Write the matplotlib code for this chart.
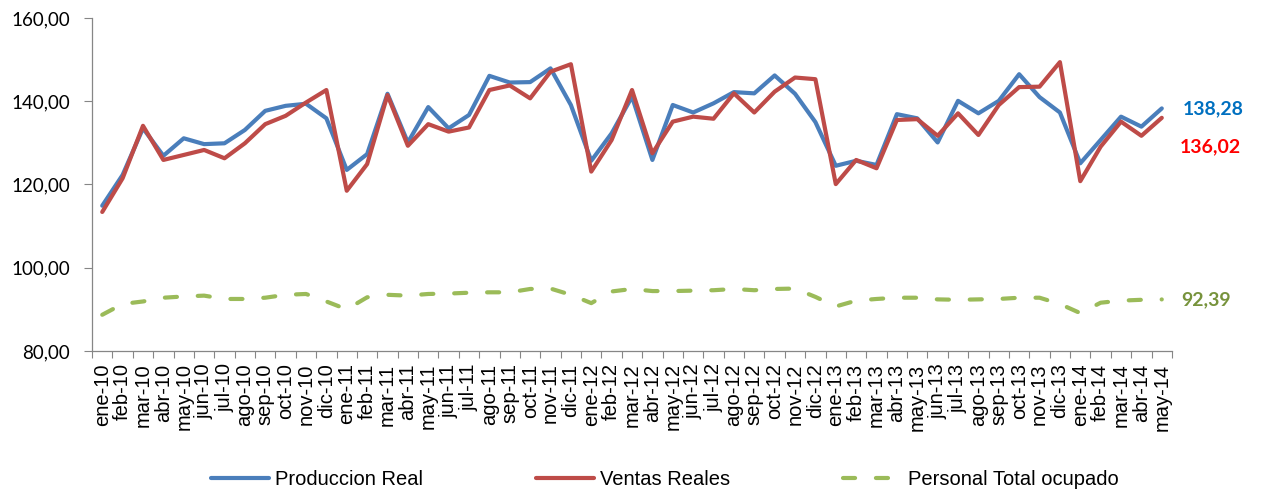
import matplotlib
matplotlib.use("Agg")
import matplotlib.pyplot as plt
from matplotlib.lines import Line2D

# Spanish month abbreviations and years shown on the x axis
meses = ["ene", "feb", "mar", "abr", "may", "jun", "jul", "ago", "sep", "oct", "nov", "dic"]
anios = ["10", "11", "12", "13", "14"]
etiquetas = [m + "-" + a for a in anios for m in meses][:53]

produccion = [114.9, 122.3, 133.5, 126.9, 131.1, 129.7, 129.9, 133.1, 137.7, 138.9, 139.4, 135.9,
              123.5, 127.3, 141.8, 130.1, 138.6, 133.5, 136.7, 146.1, 144.5, 144.6, 147.9, 139.1,
              125.7, 132.3, 141.1, 125.9, 139.1, 137.3, 139.5, 142.2, 141.9, 146.2, 141.8, 135.0,
              124.5, 125.7, 124.7, 136.9, 135.9, 130.1, 140.1, 137.1, 140.1, 146.5, 141.0, 137.3,
              125.1, 130.7, 136.3, 133.9, 138.28]
ventas = [113.4, 121.5, 134.1, 125.9, 127.1, 128.3, 126.3, 129.9, 134.5, 136.5, 139.7, 142.7,
          118.5, 124.9, 141.5, 129.3, 134.5, 132.7, 133.7, 142.7, 143.8, 140.7, 147.1, 148.9,
          123.1, 130.7, 142.7, 127.5, 135.1, 136.3, 135.8, 141.9, 137.3, 142.3, 145.7, 145.3,
          120.1, 125.9, 123.9, 135.5, 135.7, 131.7, 137.1, 131.9, 139.1, 143.4, 143.5, 149.4,
          120.8, 129.1, 135.1, 131.7, 136.02]
personal = [88.7, 91.3, 91.9, 92.8, 93.1, 93.3, 92.5, 92.5, 92.8, 93.5, 93.7, 91.9,
            90.0, 92.9, 93.5, 93.3, 93.7, 93.8, 94.0, 94.1, 94.1, 94.9, 95.0, 93.5,
            91.5, 94.3, 94.9, 94.4, 94.4, 94.5, 94.6, 94.9, 94.6, 94.9, 95.0, 93.0,
            90.7, 92.1, 92.5, 92.8, 92.8, 92.4, 92.3, 92.4, 92.5, 92.8, 92.8, 91.3,
            89.1, 91.6, 92.1, 92.3, 92.39]

y_ticks = [80, 100, 120, 140, 160]
y_labels = ["80,00", "100,00", "120,00", "140,00", "160,00"]

c_blue = "#4A7EBB"
c_red = "#BE4B48"
c_green = "#9BBB59"

fig = plt.figure(figsize=(12.61, 4.92), dpi=100)
ax = fig.add_axes([0.073, 0.2866, 0.8564, 0.6768])

x = list(range(len(etiquetas)))
ax.plot(x, produccion, color=c_blue, lw=3, solid_joinstyle="round", solid_capstyle="round",
        label="Produccion Real")
ax.plot(x, ventas, color=c_red, lw=3, solid_joinstyle="round", solid_capstyle="round",
        label="Ventas Reales")
ax.plot(x, personal, color=c_green, lw=3, dashes=(2.9, 5.0), dash_capstyle="round",
        label="Personal Total ocupado")

ax.set_xlim(-0.5, len(x) - 0.5)
ax.set_ylim(80, 160)

# category labels at centres, tick marks on the boundaries (Excel style)
ax.set_xticks(x)
ax.set_xticklabels(etiquetas, rotation=90, family="Liberation Sans", fontsize=14.5)
ax.tick_params(axis="x", which="major", length=0, pad=9)
ax.set_xticks([i - 0.5 for i in range(len(x) + 1)], minor=True)
ax.tick_params(axis="x", which="minor", length=5, width=0.8, color="#868686", direction="out")

ax.set_yticks(y_ticks)
ax.set_yticklabels(y_labels, family="Lato", fontsize=13.5)
ax.tick_params(axis="y", length=6, width=0.8, color="#868686", pad=10)

for s in ["top", "right"]:
    ax.spines[s].set_visible(False)
for s in ["left", "bottom"]:
    ax.spines[s].set_color("#868686")
    ax.spines[s].set_linewidth(0.9)

# end-of-series value labels
last = len(x) - 1
ax.annotate("138,28", (last, produccion[-1]), xytext=(15, 0), textcoords="offset points",
            va="center", ha="left", color="#0070C0", fontsize=14, fontweight="bold", family="Lato")
ax.annotate("136,02", (last, ventas[-1]), xytext=(13, -21), textcoords="offset points",
            va="center", ha="left", color="#FF0000", fontsize=14, fontweight="bold", family="Lato")
ax.annotate("92,39", (last, personal[-1]), xytext=(14, 0), textcoords="offset points",
            va="center", ha="left", color="#77933C", fontsize=14, fontweight="bold", family="Lato")

handles = [Line2D([], [], color=c_blue, lw=3, solid_capstyle="round"),
           Line2D([], [], color=c_red, lw=3, solid_capstyle="round"),
           Line2D([], [], color=c_green, lw=3, dashes=(2.9, 5.0), dash_capstyle="round")]
fig.legend(handles, ["Produccion Real", "Ventas Reales", "Personal Total ocupado"],
           loc="center", bbox_to_anchor=(0.527, 0.025), ncol=3, frameon=False,
           prop={"family": "Liberation Sans", "size": 14.5}, handlelength=2.9,
           handletextpad=0.3, columnspacing=5.6)

fig.savefig("out.png", dpi=100)
